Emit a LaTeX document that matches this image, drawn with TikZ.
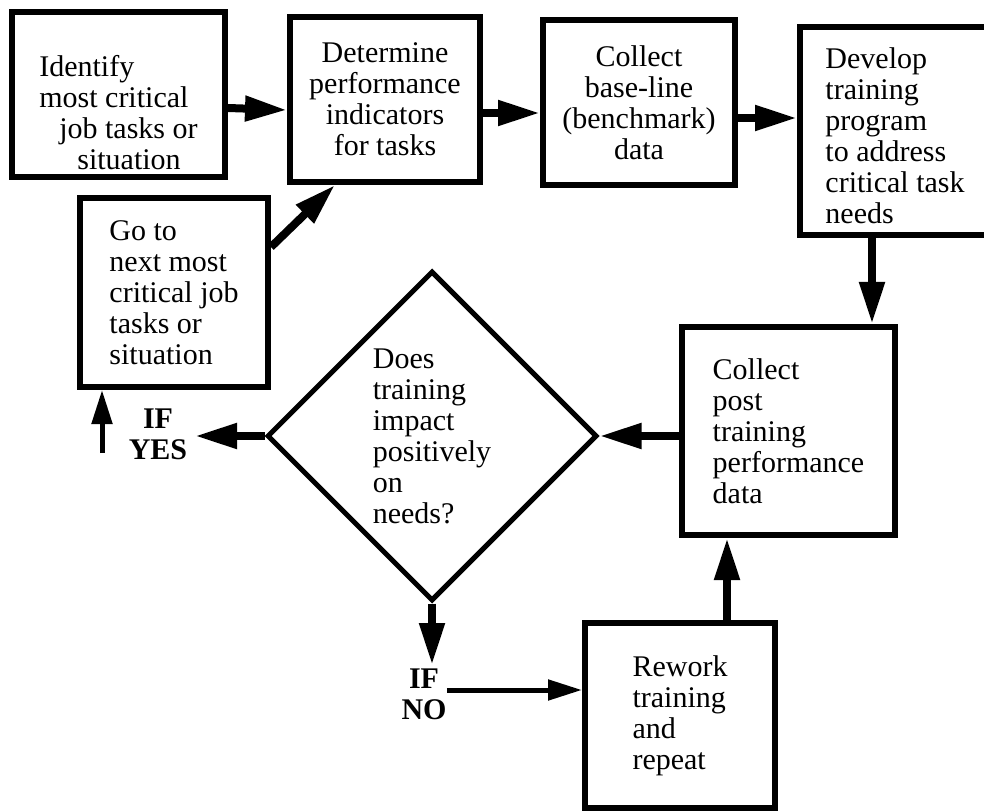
\documentclass[tikz,border=0pt]{standalone}
\usepackage{fontspec}
\setmainfont{Liberation Serif}
\usetikzlibrary{shapes.geometric,arrows.meta}

\begin{document}
\begin{tikzpicture}[x=0.5pt,y=-0.5pt,
  font=\fontsize{15pt}{15.5pt}\selectfont,
  box/.style={draw, line width=3pt, inner sep=0pt, align=left},
  arr/.style={line width=4pt, -{Triangle[length=21pt,width=12pt]}},
  thinarr/.style={line width=2.5pt, -{Triangle[length=17pt,width=10pt]}},
  answer/.style={font=\fontsize{15pt}{15.5pt}\selectfont\bfseries, align=center, inner sep=0pt}]
\useasboundingbox (0,0) rectangle (984,812);
\clip (0,0) rectangle (984,812);

% top row
\node[box, minimum width=106.5pt, minimum height=82.5pt] (identify) at (118.5,94.5)
  {\mbox{}\\[13pt]Identify\\most critical\\\hspace*{10pt}job tasks or\\\hspace*{19pt}situation};
\node[box, align=center, minimum width=95pt, minimum height=82.5pt] (indicators) at (385,99.5)
  {Determine\\performance\\indicators\\for tasks};
\node[box, align=center, minimum width=96pt, minimum height=82.5pt] (baseline) at (639,102.5)
  {Collect\\base-line\\(benchmark)\\data};
\node[box, minimum width=95pt, minimum height=104pt] (develop) at (895,131)
  {\mbox{}\\[0pt]Develop\\training\\program\\to address\\critical task\\needs};

% middle
\node[box, minimum width=94pt, minimum height=94.5pt] (goto) at (174,292.5)
  {Go to\\next most\\critical job\\tasks or\\situation};
\node[draw, diamond, aspect=1, line width=2.5pt, inner sep=0pt, minimum width=165pt,
  minimum height=165pt, align=left] (impact) at (432,436)
  {Does\\training\\impact\\positively\\on\\needs?};
\node[box, minimum width=106.5pt, minimum height=104pt] (posttrain) at (788.5,431)
  {Collect\\post\\training\\performance\\data};

% bottom
\node[box, minimum width=95pt, minimum height=92.5pt] (rework) at (680,715.5)
  {Rework\\training\\and\\repeat};

\node[answer] (ifyes) at (158,434) {IF\\YES};
\node[answer] (ifno) at (424,694) {IF\\NO};
\coordinate (yestip) at (195,436);
\coordinate (yestail) at (102,453);
\coordinate (notip) at (432,665);

% arrows
\draw[arr] ([yshift=-6.75pt]identify.east) -- ([yshift=-5.25pt]indicators.west);
\draw[arr] ([yshift=-6.75pt]indicators.east) -- ([yshift=-5.25pt]baseline.west);
\draw[arr] ([yshift=-7.75pt]baseline.east) -- ([yshift=-7.75pt]baseline.east -| develop.west);
\draw[arr] ([xshift=-11.5pt]develop.south) -- ([xshift=-11.5pt]develop.south |- posttrain.north);
\draw[arr] (posttrain.west |- impact.east) -- (impact.east);
\draw[arr] ([yshift=22.75pt]goto.east) -- ([xshift=-25pt]indicators.south);
\draw[arr] (impact.west) -- (yestip);
\draw[thinarr] (yestail) -- (yestail |- goto.south);
\draw[arr] (impact.south) -- (notip);
\draw[thinarr] ([yshift=2pt]ifno.east) -- ([yshift=2pt]ifno.east -| rework.west);
\draw[arr] ([xshift=23.5pt]rework.north) -- ([xshift=23.5pt]rework.north |- posttrain.south);
\end{tikzpicture}
\end{document}
